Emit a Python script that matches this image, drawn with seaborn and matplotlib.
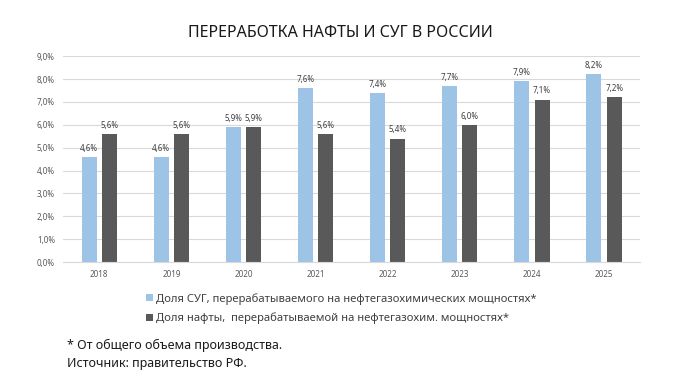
import matplotlib
matplotlib.use('Agg')
import matplotlib.pyplot as plt
import pandas as pd
import seaborn as sns

# Data
years = ['2018', '2019', '2020', '2021', '2022', '2023', '2024', '2025']
lpg_share = [4.6, 4.6, 5.9, 7.6, 7.4, 7.7, 7.9, 8.2]
naphtha_share = [5.6, 5.6, 5.9, 5.6, 5.4, 6.0, 7.1, 7.2]
series_names = ['Доля СУГ, перерабатываемого на нефтегазохимических мощностях*',
                'Доля нафты,  перерабатываемой на нефтегазохим. мощностях*']
y_ticks = [0, 1, 2, 3, 4, 5, 6, 7, 8, 9]

df = pd.DataFrame({
    'year': years * 2,
    'value': lpg_share + naphtha_share,
    'series': [series_names[0]] * len(years) + [series_names[1]] * len(years),
})

sns.set_style('white')
plt.rcParams['font.family'] = ['Noto Sans', 'DejaVu Sans']

fig = plt.figure(figsize=(6.8, 3.9), dpi=100)
ax = fig.add_axes([0.093, 0.328, 0.848, 0.528])

palette = {series_names[0]: '#9DC3E6', series_names[1]: '#595959'}
sns.barplot(data=df, x='year', y='value', hue='series', palette=palette,
            width=0.57, gap=0.27, ax=ax, saturation=1, linewidth=0)

# Value labels
for cont in ax.containers:
    labels = [f'{v:.1f}%'.replace('.', ',') for v in cont.datavalues]
    ax.bar_label(cont, labels=labels, padding=3, fontsize=5.8, color='#404040')

ax.set_ylim(0, 9)
ax.set_yticks(y_ticks)
ax.set_yticklabels([f'{t:.1f}%'.replace('.', ',') for t in y_ticks])
ax.tick_params(axis='both', labelsize=5.8, colors='#595959', length=0, pad=6)
ax.grid(axis='y', color='#D9D9D9', linewidth=0.8)
ax.set_axisbelow(True)
for s in ['top', 'right', 'left']:
    ax.spines[s].set_visible(False)
ax.spines['bottom'].set_color('#D9D9D9')
ax.set_xlabel('')
ax.set_ylabel('')

handles, lbls = ax.get_legend_handles_labels()
ax.legend_.remove()
fig.legend(handles, lbls, loc='upper left', bbox_to_anchor=(0.2, 0.275),
           frameon=False, fontsize=8.1, handlelength=0.6, handleheight=0.6,
           handletextpad=0.3, labelspacing=0.7, labelcolor='#404040')

fig.text(0.5, 0.915, 'ПЕРЕРАБОТКА НАФТЫ И СУГ В РОССИИ', ha='center', va='center',
         fontsize=11.5, fontweight='semibold', color='#1a1a1a')
fig.text(0.098, 0.115, '* От общего объема производства.', fontsize=9, color='#1a1a1a', va='center')
fig.text(0.098, 0.068, 'Источник: правительство РФ.', fontsize=9, color='#1a1a1a', va='center')

fig.savefig('out.png', dpi=100)
